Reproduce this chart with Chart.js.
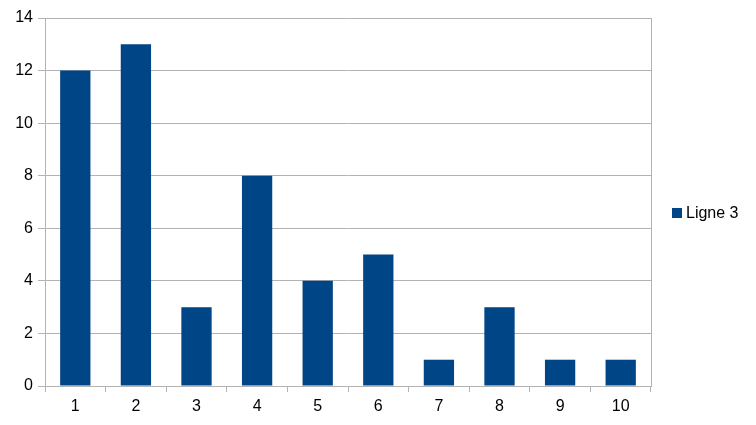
<!DOCTYPE html>
<html>
<head>
<meta charset="utf-8">
<script src="https://cdn.jsdelivr.net/npm/chart.js@4/dist/chart.umd.min.js"></script>
<style>
  html, body { margin: 0; padding: 0; background: #fff; }
  #wrap { position: relative; width: 756px; height: 425px; }
  #legendBox { position: absolute; left: 672px; top: 208px; width: 10px; height: 10px; background: #004586; }
  #legendText { position: absolute; left: 686px; top: 204px; font: 16px "Liberation Sans", Arial, sans-serif; color: #000; white-space: nowrap; }
</style>
</head>
<body>
<div id="wrap">
  <canvas id="chart" width="756" height="425"></canvas>
  <div id="legendBox"></div>
  <div id="legendText">Ligne 3</div>
</div>
<script>
  /* ── Data ── */
  var categories = ["1", "2", "3", "4", "5", "6", "7", "8", "9", "10"];
  var seriesName = "Ligne 3";
  var values = [12, 13, 3, 8, 4, 5, 1, 3, 1, 1];
  var yTicks = [0, 2, 4, 6, 8, 10, 12, 14];

  var gridColor = "#b3b3b3";
  document.getElementById("legendText").textContent = seriesName;

  /* ── Right border of the plot area ── */
  var frame = {
    id: "frame",
    afterDraw: function (chart) {
      var a = chart.chartArea, ctx = chart.ctx;
      ctx.save();
      ctx.strokeStyle = gridColor;
      ctx.lineWidth = 1;
      ctx.beginPath();
      ctx.moveTo(Math.round(a.right) + 0.5, a.top);
      ctx.lineTo(Math.round(a.right) + 0.5, a.bottom);
      ctx.stroke();
      ctx.restore();
    }
  };

  new Chart(document.getElementById("chart").getContext("2d"), {
    type: "bar",
    data: {
      labels: categories,
      datasets: [{
        label: seriesName,
        data: values,
        backgroundColor: "#004586",
        borderWidth: 0,
        categoryPercentage: 1,
        barPercentage: 0.5
      }]
    },
    options: {
      responsive: false,
      animation: false,
      layout: { padding: { left: 0, top: 18, right: 105, bottom: 0 } },
      plugins: {
        legend: { display: false },
        tooltip: { enabled: false }
      },
      scales: {
        x: {
          grid: { offset: true, drawOnChartArea: false, drawTicks: true, tickLength: 6, color: gridColor },
          border: { color: gridColor },
          ticks: { color: "#000", padding: 5, font: { family: "Liberation Sans", size: 16 } },
          afterFit: function (s) { s.height = 39; }
        },
        y: {
          min: 0,
          max: 14,
          afterBuildTicks: function (s) { s.ticks = yTicks.map(function (v) { return { value: v }; }); },
          grid: { color: gridColor, tickLength: 7 },
          border: { color: gridColor },
          ticks: { color: "#000", padding: 5, font: { family: "Liberation Sans", size: 16 } },
          afterFit: function (s) { s.width = 45; }
        }
      }
    },
    plugins: [frame]
  });
</script>
</body>
</html>
